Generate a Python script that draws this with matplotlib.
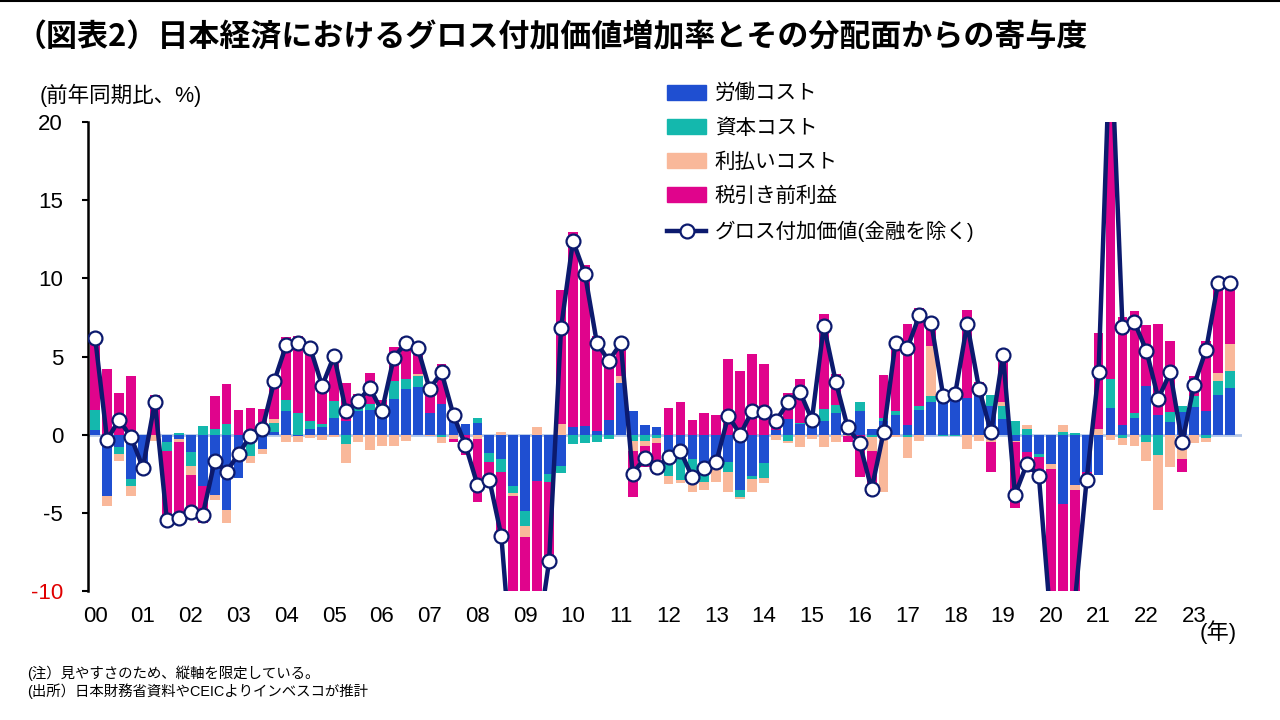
import numpy as np
import matplotlib
matplotlib.use("Agg")
import matplotlib.pyplot as plt
from matplotlib.patches import Patch
from matplotlib.lines import Line2D

plt.rcParams["font.family"] = ["Liberation Sans", "Noto Sans CJK JP", "DejaVu Sans"]
plt.rcParams["axes.unicode_minus"] = False

# Quarterly data, 2000Q1 - 2023Q4 (contribution, %pt)
years = [f"{y:02d}" for y in range(0, 24)]
labor = [0.3, -3.9, -0.77, -2.84, -2.0, 0, -0.49, -0.25,
         -1.09, -3.26, -3.86, -4.82, -2.77, -0.5, -0.92, 0.21,
         1.54, -0.1, 0.36, 0.51, 1.07, 0.9, 1.54, 1.58,
         1.3, 2.28, 2.92, 3.03, 1.39, 1.96, 1.64, 0.68,
         0.75, -1.17, -1.56, -3.26, -4.9, -2.98, -2.5, -1.98,
         0.49, 0.58, 0.26, 0.94, 3.3, 1.49, 0.62, 0.47,
         -1.77, -1.51, -1.56, -2.03, -1.8, -1.77, -3.52, -2.62,
         -1.81, 0.3, 1.0, 0.68, 0.58, 0.9, 1.39, 0.9,
         1.54, 0.4, 0.9, 1.26, 0.64, 1.58, 2.11, 2.3,
         2.7, 2.35, 2.7, 1.85, 1.0, -0.38, -1.13, -1.24,
         -1.88, -4.43, -3.22, -2.37, -2.56, 1.7, 0.62, 1.1,
         3.13, 1.26, 0.79, 1.43, 1.79, 1.54, 2.54, 2.99]
capital = [1.28, 0, -0.47, -0.43, 0, 0, -0.53, 0.1,
           -0.9, 0.58, 0.4, 0.68, 0, -0.85, 0, 0.53,
           0.68, 1.39, 0.51, 0.15, 1.09, -0.6, 0.2, 0.38,
           0, 1.17, 0.64, 0.75, 0, -0.17, 0, 0,
           0.32, -0.55, -0.81, -0.47, -0.92, 0, -0.49, -0.47,
           -0.58, -0.53, -0.45, -0.3, 0, -0.38, -0.38, -0.23,
           -0.85, -1.36, -0.85, -1.02, -0.4, -0.6, -0.43, -0.21,
           -0.98, 0, -0.38, 0.1, 0, 0.75, 0.53, 0,
           0.58, -0.17, 0.15, 0.28, -0.13, 0.28, 0.34, -0.1,
           -0.1, 0, 0, 0.68, 0.85, 0.85, 0.36, -0.21,
           0, 0.19, 0.1, 0, 0, 1.9, -0.21, 0.32,
           -0.45, -1.3, 0.68, 0.43, 0.7, -0.21, 0.9, 1.09]
interest = [0, -0.64, -0.43, -0.64, 0, -0.38, 0, -0.2,
            -0.58, 0, -0.3, -0.81, 0, -0.43, -0.32, 0.26,
            -0.49, -0.35, -0.19, -0.34, -0.15, -1.22, -0.45, -0.96,
            -0.7, -0.7, -0.38, 0.1, -0.05, -0.36, -0.28, 0,
            -0.28, 0, 0.15, -0.17, -0.7, 0.47, 0, 0.68,
            0, 0, 0, 0, 0.47, -0.64, -0.32, -0.32,
            -0.53, -0.21, -1.24, -0.47, -0.8, -1.28, -0.13, -0.81,
            -0.3, -0.35, -0.17, -0.75, -0.28, -0.81, -0.49, -0.1,
            0, -0.85, -3.65, -0.17, -1.37, -0.38, 3.24, 0,
            0, -0.92, -0.4, -0.45, 0.26, -0.1, 0.26, 0,
            -0.32, 0.43, -0.3, 0, 0.36, -0.34, -0.43, -0.7,
            -1.22, -3.5, -2.05, -1.56, -0.55, -0.28, 0.49, 1.73]
profit = [4.6, 4.2, 2.67, 3.77, -0.1, 2.54, -4.4, -4.85,
          -2.4, -2.41, 2.05, 2.56, 1.58, 1.7, 1.64, 2.4,
          4.03, 4.9, 4.9, 2.8, 3.05, 2.4, 0.9, 1.98,
          0.9, 2.15, 2.7, 1.7, 1.54, 2.56, -0.17, -1.3,
          -4.0, -1.15, -4.24, -12.1, -13.5, -10.8, -5.1, 8.57,
          12.45, 10.27, 6.05, 4.11, 2.05, -2.99, -1.39, -1.96,
          1.7, 2.07, 0.94, 1.39, 1.26, 4.84, 4.07, 5.16,
          4.52, 0.9, 1.67, 2.78, 0.66, 6.07, 1.96, -0.35,
          -2.69, -2.92, 2.75, 4.54, 6.44, 6.22, 1.43, 0.2,
          0, 5.6, 0.65, -1.95, 3.0, -4.2, -1.28, -1.15,
          -9.8, -10.2, -7.4, -0.5, 6.18, 22.7, 6.89, 6.5,
          3.88, 5.82, 4.54, -0.81, 1.3, 4.43, 5.78, 3.92]
gva = [6.2, -0.32, 0.96, -0.15, -2.1, 2.1, -5.46, -5.3,
       -4.97, -5.14, -1.7, -2.37, -1.22, -0.06, 0.4, 3.45,
       5.76, 5.88, 5.57, 3.13, 5.05, 1.51, 2.15, 3.0,
       1.51, 4.93, 5.88, 5.57, 2.92, 4.0, 1.24, -0.66,
       -3.2, -2.88, -6.46, -16.0, -20.0, -13.3, -8.1, 6.82,
       12.4, 10.3, 5.88, 4.73, 5.84, -2.5, -1.47, -2.09,
       -1.43, -1.05, -2.73, -2.15, -1.73, 1.22, 0.0, 1.54,
       1.47, 0.9, 2.07, 2.75, 0.96, 6.97, 3.39, 0.47,
       -0.55, -3.48, 0.15, 5.9, 5.57, 7.65, 7.12, 2.45,
       2.64, 7.1, 2.94, 0.15, 5.12, -3.84, -1.86, -2.62,
       -12.0, -14.0, -10.8, -2.88, 3.99, 26.0, 6.9, 7.19,
       5.39, 2.32, 3.99, -0.49, 3.2, 5.44, 9.7, 9.72]

names = ["労働コスト", "資本コスト", "利払いコスト", "税引き前利益"]
colors = ["#1f4fd1", "#14b8ad", "#f9b89a", "#e0048c"]
line_color = "#0c1a6e"

x = np.arange(len(gva))
series = [np.array(s, dtype=float) for s in (labor, capital, interest, profit)]

fig = plt.figure(figsize=(12.8, 7.2), dpi=100)
ax = fig.add_axes([0.06875, 0.179, 0.9015, 0.6514])

ax.axhline(0, color="#b4c7e7", lw=2, zorder=1)

# stack positives upward and negatives downward
pos_base = np.zeros(len(x))
neg_base = np.zeros(len(x))
for vals, col in zip(series, colors):
    bottom = np.where(vals >= 0, pos_base, neg_base)
    ax.bar(x, vals, bottom=bottom, width=0.82, color=col, zorder=2)
    pos_base += np.clip(vals, 0, None)
    neg_base += np.clip(vals, None, 0)

ax.plot(x, gva, color=line_color, lw=3.2, marker="o", markersize=10,
        markerfacecolor="white", markeredgecolor=line_color,
        markeredgewidth=1.6, zorder=4)

ax.set_ylim(-10, 20)
ax.set_xlim(-0.6, 96)
ax.set_yticks([-10, -5, 0, 5, 10, 15, 20])
ax.set_xticks(np.arange(0, 96, 4))
ax.set_xticklabels(years)
ax.tick_params(axis="y", direction="out", length=4, width=1.5, pad=14, labelsize=16)
ax.tick_params(axis="x", length=0, pad=11, labelsize=16)
ax.get_yticklabels()[0].set_color("#e00000")
for s in ["top", "right", "bottom"]:
    ax.spines[s].set_visible(False)
ax.spines["left"].set_linewidth(1.8)

handles = [Patch(color=c) for c in colors]
handles.append(Line2D([], [], color=line_color, lw=3.2, marker="o", markersize=10,
                      markerfacecolor="white", markeredgecolor=line_color,
                      markeredgewidth=1.6))
labels = names + ["グロス付加価値(金融を除く)"]
fig.legend(handles, labels, loc="upper left", bbox_to_anchor=(0.515, 0.895),
           frameon=False, fontsize=14.8, handlelength=1.9, handleheight=0.75,
           handletextpad=0.4, labelspacing=0.72, borderaxespad=0)

fig.text(15 / 1280, 1 - 37 / 720,
         "（図表2）日本経済におけるグロス付加価値増加率とその分配面からの寄与度",
         fontsize=22.3, fontweight="bold", va="center", family=["Noto Sans CJK JP"])
fig.text(40 / 1280, 1 - 95 / 720, "(前年同期比、%)", fontsize=15.5, va="center")
fig.text(1218 / 1280, 1 - 632 / 720, "(年)", fontsize=16, va="center", ha="center")
fig.text(27 / 1280, 1 - 673 / 720, "(注）見やすさのため、縦軸を限定している。",
         fontsize=10.4, va="center")
fig.text(27 / 1280, 1 - 691 / 720, "(出所）日本財務省資料やCEICよりインベスコが推計",
         fontsize=10.4, va="center")
fig.add_artist(Line2D([0, 1], [0.998, 0.998], color="black", lw=1.5))

fig.savefig("out.png", dpi=100)
